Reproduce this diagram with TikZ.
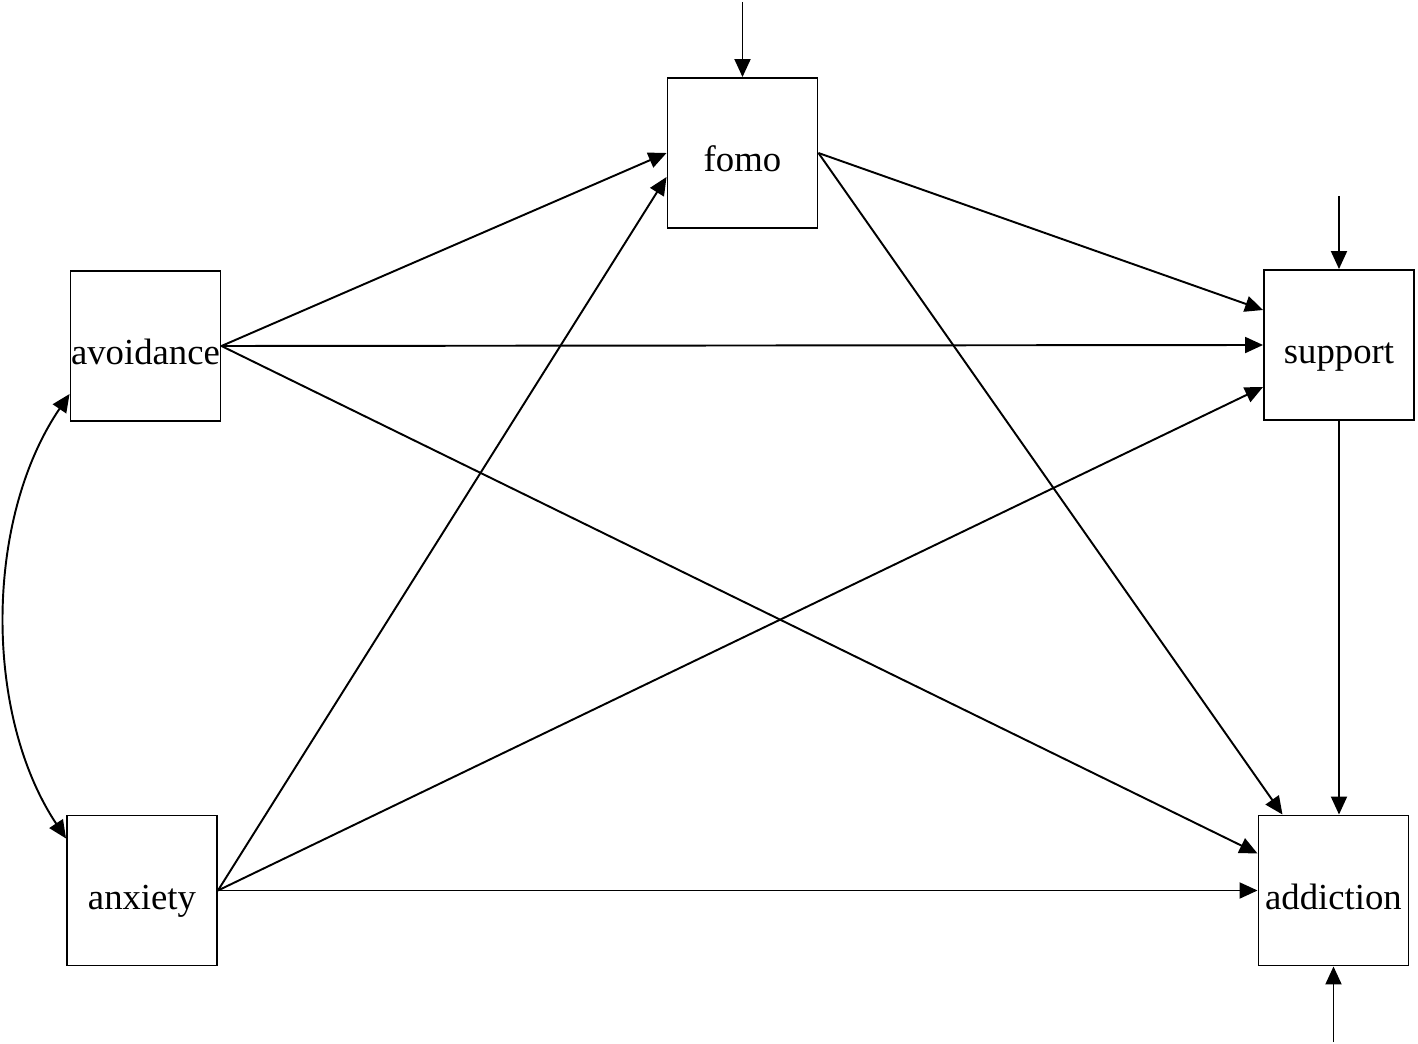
\documentclass[tikz,border=0pt]{standalone}
\usepackage{fontspec}
\setmainfont{Liberation Serif}
\usetikzlibrary{arrows.meta,calc}

\begin{document}
\begin{tikzpicture}[x=0.02cm,y=-0.02cm,line width=1.1pt,
    >={Triangle[length=0.36cm,width=0.32cm]},
    varbox/.style={draw,minimum size=3cm,inner sep=0pt,text height=0.76cm,text depth=0cm,
      font=\fontsize{20.9}{25}\selectfont}]
    \useasboundingbox (0,0) rectangle (1418,1044);
    \node[varbox] (fomo) at (742.5,153) {fomo};
    \node[varbox] (avoid) at (145.5,346) {avoidance};
    \node[varbox] (support) at (1339,345) {support};
    \node[varbox] (anx) at (142,890.5) {anxiety};
    \node[varbox] (addict) at (1333.5,890.5) {addiction};
    \coordinate (efomo) at (742.5,2);
    \coordinate (esupport) at (1339,196);
    \coordinate (eaddict) at (1333.5,1042);
    \draw[->] (efomo) -- (fomo.north);
    \draw[->] (esupport) -- (support.north);
    \draw[->] (eaddict) -- (addict.south);
    \draw[->] (avoid.east) -- (fomo.west);
    \draw[->] (avoid.east) -- (support.west);
    \draw[->] (avoid.east) -- ($(addict.west)+(0,-37)$);
    \draw[->] (anx.east) -- ($(fomo.west)+(0,24)$);
    \draw[->] (anx.east) -- ($(support.west)+(0,42)$);
    \draw[->] (anx.east) -- (addict.west);
    \draw[->] (fomo.east) -- ($(support.west)+(0,-35)$);
    \draw[->] (fomo.east) -- ($(addict.north)+(-51,0)$);
    \draw[->] (support.south) -- (support.south |- addict.north);
    \draw[<->] ($(avoid.west)+(0,48)$) .. controls (-16,520) and (-16,715) .. ($(anx.west)+(0,-52)$);
  \end{tikzpicture}
\end{document}
